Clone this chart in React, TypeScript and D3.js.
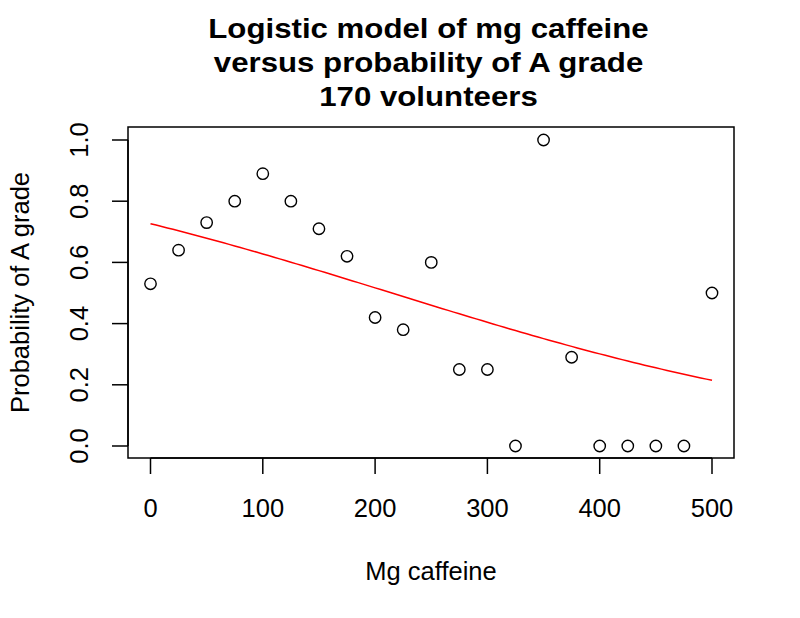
import React from "react";
import * as d3 from "d3";

const caffeine = [0, 25, 50, 75, 100, 125, 150, 175, 200, 225, 250, 275, 300, 325, 350, 375, 400, 425, 450, 475, 500];
const probA = [0.53, 0.64, 0.73, 0.8, 0.89, 0.8, 0.71, 0.62, 0.42, 0.38, 0.6, 0.25, 0.25, 0, 1.0, 0.29, 0, 0, 0, 0, 0.5];
const xTicks = [0, 100, 200, 300, 400, 500];
const yTicks = [0, 0.2, 0.4, 0.6, 0.8, 1.0];
const titleLines = ["Logistic model of mg caffeine", "versus probability of A grade", "170 volunteers"];
const xLabel = "Mg caffeine";
const yLabel = "Probability of A grade";
// fitted logistic model coefficients
const MODEL_INTERCEPT = 0.977;
const MODEL_SLOPE = -0.004548;

const W = 800;
const H = 618;
const box = { left: 128, right: 734, top: 127, bottom: 458 };
const FONT = "'Liberation Sans', Arial, Helvetica, sans-serif";

export default function App() {
  const x = d3.scaleLinear().domain([0, 500]).range([150.5, 712]);
  const y = d3.scaleLinear().domain([0, 1]).range([446, 140]);

  const curveX = d3.range(0, 501, 5);
  const curveData = curveX.map((c) => [c, 1 / (1 + Math.exp(-(MODEL_INTERCEPT + MODEL_SLOPE * c)))] as [number, number]);
  const line = d3.line<[number, number]>().x((d) => x(d[0])).y((d) => y(d[1]));

  const fs = 25.5;
  return (
    <svg width={W} height={H} style={{ position: "absolute", left: 0, top: 0, background: "#fff" }} fontFamily={FONT}>
      <rect x={0} y={0} width={W} height={H} fill="#fff" />
      {titleLines.map((t, i) => (
        <g key={i} transform={`translate(428.5,${37.5 + i * 34.3}) scale(1.115,1)`}>
          <text x={0} y={0} textAnchor="middle" fontWeight="bold" fontSize={28}>
            {t}
          </text>
        </g>
      ))}
      <rect x={box.left} y={box.top} width={box.right - box.left} height={box.bottom - box.top} fill="none" stroke="#000" strokeWidth={1.5} />
      {/* x axis */}
      <line x1={x(0)} x2={x(500)} y1={box.bottom} y2={box.bottom} stroke="#000" strokeWidth={1.5} />
      {xTicks.map((t) => (
        <g key={t}>
          <line x1={x(t)} x2={x(t)} y1={box.bottom} y2={box.bottom + 16} stroke="#000" strokeWidth={1.5} />
          <text x={x(t)} y={517} textAnchor="middle" fontSize={fs}>
            {t}
          </text>
        </g>
      ))}
      {/* y axis */}
      <line x1={box.left} x2={box.left} y1={y(0)} y2={y(1)} stroke="#000" strokeWidth={1.5} />
      {yTicks.map((t) => (
        <g key={t}>
          <line x1={box.left - 16} x2={box.left} y1={y(t)} y2={y(t)} stroke="#000" strokeWidth={1.5} />
          <text transform={`translate(88,${y(t)}) rotate(-90)`} textAnchor="middle" fontSize={fs}>
            {t.toFixed(1)}
          </text>
        </g>
      ))}
      <text x={(box.left + box.right) / 2} y={580} textAnchor="middle" fontSize={fs}>
        {xLabel}
      </text>
      <text transform={`translate(29,${(box.top + box.bottom) / 2}) rotate(-90)`} textAnchor="middle" fontSize={fs}>
        {yLabel}
      </text>
      <path d={line(curveData) || ""} fill="none" stroke="#ff0000" strokeWidth={1.5} />
      {caffeine.map((c, i) => (
        <circle key={i} cx={x(c)} cy={y(probA[i])} r={5.7} fill="none" stroke="#000" strokeWidth={1.4} />
      ))}
    </svg>
  );
}
